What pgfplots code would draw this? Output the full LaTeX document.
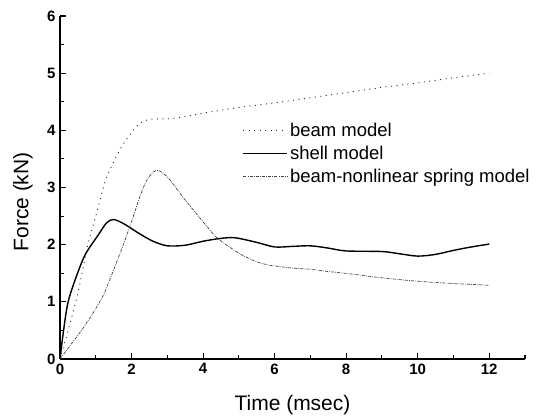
\documentclass[border=0pt]{standalone}
\usepackage{pgfplots}
\pgfplotsset{compat=1.18}
\usepackage{fontspec}
\setmainfont{Liberation Sans}
\begin{document}
\begin{tikzpicture}
\begin{axis}[
  at={(0,0)}, anchor=south west,
  scale only axis, width=465pt, height=343pt,
  xmin=0, xmax=13, ymin=0, ymax=6,
  axis x line*=bottom, axis y line*=left,
  axis line style={line width=1.2pt},
  every tick/.style={line width=1.1pt, black},
  tick align=inside,
  major tick length=6pt, minor tick length=4pt,
  xtick={0,2,4,6,8,10,12}, minor xtick={1,3,5,7,9,11,13},
  ytick={0,1,2,3,4,5,6}, minor ytick={0.5,1.5,2.5,3.5,4.5,5.5},
  /pgf/number format/assume math mode=true,
  ticklabel style={font=\bfseries\fontsize{15}{15}\selectfont},
  xticklabel style={yshift=-1pt},
  yticklabel style={xshift=-1pt},
  xlabel={Time (msec)}, ylabel={Force (kN)},
  label style={font=\fontsize{21}{21}\selectfont},
  xlabel style={at={(axis description cs:0.5,-0.149)}, anchor=base},
  ylabel style={at={(axis description cs:-0.0796,0.458)}, anchor=center, rotate=0},
  legend style={draw=none, fill=none, at={(axis cs:5.1,4.16)}, anchor=north west,
    font=\fontsize{18.5}{18.5}\selectfont, row sep=4pt, inner sep=0pt},
  legend cell align=left,
  legend image code/.code={\draw[#1] (0pt,0pt) -- (44pt,0pt);},
]
\addplot[black!85, line width=0.9pt, dash pattern=on 1pt off 4.5pt, smooth, tension=0.4] coordinates {
(0,0) (0.25,0.55) (0.5,1.15) (0.78,2.0) (1.0,2.5) (1.26,3.1) (1.5,3.45) (1.73,3.72) (2.04,4.0) (2.3,4.15) (2.6,4.2) (3.0,4.2) (3.5,4.24) (4,4.3) (5,4.4) (6,4.48) (7,4.57) (8,4.66) (9,4.75) (10,4.83) (11,4.92) (12,5.0)
};
\addlegendentry{beam model}
\addplot[black, line width=1.4pt, smooth, tension=0.5] coordinates {
(0,0) (0.1,0.5) (0.22,0.98) (0.42,1.38) (0.7,1.82) (1.07,2.17) (1.3,2.38) (1.5,2.44) (1.8,2.36) (2.2,2.2) (2.6,2.06) (3.0,1.98) (3.5,1.99) (4.0,2.06) (4.5,2.11) (4.9,2.12) (5.5,2.04) (6.0,1.96) (6.5,1.97) (7,1.98) (7.5,1.94) (8,1.89) (9,1.88) (9.5,1.84) (10,1.80) (10.5,1.83) (11,1.9) (11.5,1.96) (12,2.01)
};
\addlegendentry{shell model}
\addplot[black!75, line width=0.7pt, dash pattern=on 3pt off 1.2pt on 0.8pt off 1.2pt, smooth, tension=0.4] coordinates {
(0,0) (0.3,0.25) (0.6,0.5) (0.9,0.78) (1.2,1.1) (1.4,1.4) (1.6,1.72) (1.8,2.05) (2.0,2.4) (2.2,2.78) (2.4,3.1) (2.6,3.27) (2.75,3.3) (2.9,3.24) (3.08,3.13) (3.5,2.78) (4.0,2.4) (4.39,2.12) (5.0,1.85) (5.5,1.7) (5.87,1.64) (6.5,1.59) (7,1.57) (7.5,1.53) (8.11,1.49) (9,1.42) (10,1.36) (11,1.32) (12,1.29)
};
\addlegendentry{beam-nonlinear spring model}
\end{axis}
\pgfresetboundingbox
\path[use as bounding box] (-60pt,-58pt) rectangle (492pt,359pt);
\end{tikzpicture}
\end{document}
